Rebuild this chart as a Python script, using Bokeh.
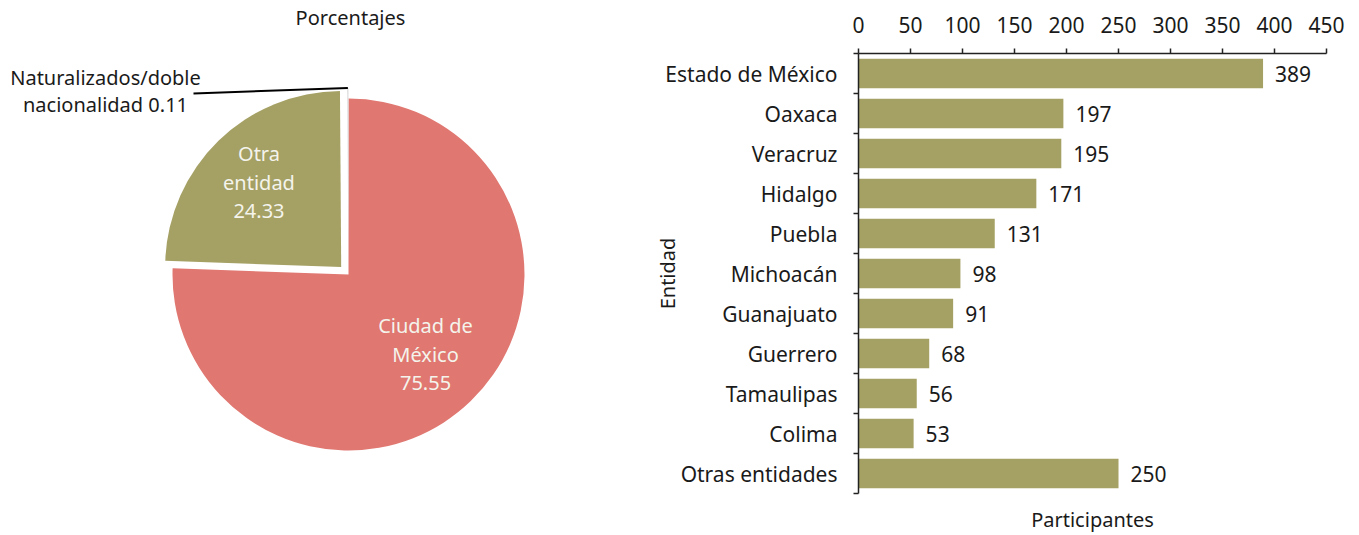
import math
from bokeh.plotting import figure
from bokeh.layouts import row
from bokeh.models import Range1d, FixedTicker, LinearAxis, ColumnDataSource
from bokeh.core.properties import value
from bokeh.embed import file_html
from bokeh.resources import INLINE

# ---------------- data ----------------
pie_title = "Porcentajes"
pie_labels = ["Ciudad de México", "Otra entidad", "Naturalizados/doble nacionalidad"]
pie_values = [75.55, 24.33, 0.11]
pie_colors = ["#E07770", "#A5A064", "#D9D9D9"]
pie_explode = [0.0, 10.5, 10.5]

bar_names = ["Estado de México", "Oaxaca", "Veracruz", "Hidalgo", "Puebla", "Michoacán",
             "Guanajuato", "Guerrero", "Tamaulipas", "Colima", "Otras entidades"]
bar_values = [389, 197, 195, 171, 131, 98, 91, 68, 56, 53, 250]
x_ticks = [0, 50, 100, 150, 200, 250, 300, 350, 400, 450]

FONT = "Noto Sans"
TXT = "#1a1a1a"
TOP, FH, BOT = 53, 440, 40

# ---------------- pie ----------------
W1 = 638
p1 = figure(frame_width=W1, frame_height=FH, x_range=Range1d(0, W1), y_range=Range1d(0, FH),
            output_backend="svg", toolbar_location=None, min_border_left=0,
            min_border_right=0, min_border_top=TOP, min_border_bottom=BOT)
p1.axis.visible = False
p1.grid.visible = False
p1.outline_line_color = None

# title drawn as the single label of an otherwise invisible top axis
ta = LinearAxis(ticker=FixedTicker(ticks=[350]), major_label_overrides={350: pie_title},
                axis_line_color=None, major_tick_line_color=None, minor_tick_line_color=None,
                major_tick_out=0, major_tick_in=0, major_label_standoff=23,
                major_label_text_font=FONT, major_label_text_font_size="20px",
                major_label_text_color=TXT)
p1.add_layout(ta, "above")

cx, cy, R = 348, 219, 176
total = sum(pie_values)
a = 90.0
centers = []
mids = []
for v, col, ex in zip(pie_values, pie_colors, pie_explode):
    sweep = v / total * 360.0
    end = a - sweep
    mid = math.radians((a + end) / 2)
    ox, oy = cx + ex * math.cos(mid), cy + ex * math.sin(mid)
    p1.wedge(x=ox, y=oy, radius=R, start_angle=math.radians(end), end_angle=math.radians(a),
             fill_color=col, line_color=None)
    centers.append((ox, oy))
    mids.append(mid)
    a = end

fs = "20px"
def inside(i, lines, frac):
    ox, oy = centers[i]
    lx, ly = ox + frac * R * math.cos(mids[i]), oy + frac * R * math.sin(mids[i])
    n = len(lines)
    ys = [ly + (n - 1) / 2 * 28.5 - k * 28.5 for k in range(n)]
    p1.text(x=[lx] * n, y=ys, text=lines, text_align="center", text_baseline="middle",
            text_font=value(FONT), text_font_size=fs, text_color="#F4F4EC")

inside(0, ["Ciudad de", "México", f"{pie_values[0]:.2f}"], 0.63)
inside(1, ["Otra", "entidad", f"{pie_values[1]:.2f}"], 0.67)

ox, oy = centers[2]
sx, sy = ox + R * math.cos(mids[2]), oy + R * math.sin(mids[2])
p1.line(x=[sx, 193], y=[sy, 400], line_color="black", line_width=2)
p1.text(x=[105, 105], y=[416, 389], text=["Naturalizados/doble", f"nacionalidad {pie_values[2]:.2f}"],
        text_align="center", text_baseline="middle", text_font=value(FONT),
        text_font_size=fs, text_color=TXT)

# ---------------- bars ----------------
n = len(bar_names)
ycent = [i + 0.5 for i in range(n)]
bounds = [float(i) for i in range(n + 1)]

p2 = figure(frame_width=468, frame_height=FH, x_range=Range1d(0, 450), y_range=Range1d(n, 0),
            x_axis_location="above", output_backend="svg", toolbar_location=None,
            min_border_left=220, min_border_right=30, min_border_top=TOP, min_border_bottom=BOT)
p2.grid.visible = False
p2.outline_line_color = None

src = ColumnDataSource(dict(y=ycent, v=bar_values, t=[str(v) for v in bar_values]))
p2.hbar(y="y", left=0, right="v", height=0.74, source=src, fill_color="#A5A064",
        line_color=None)
p2.text(x="v", y="y", text="t", source=src, x_offset=12, text_baseline="middle",
        text_font=value(FONT), text_font_size="21px", text_color=TXT)

xa = p2.xaxis[0]
xa.ticker = FixedTicker(ticks=x_ticks)
xa.major_tick_in = 0
xa.major_tick_out = 5
xa.minor_tick_line_color = None
xa.axis_line_width = 1.5
xa.major_tick_line_width = 1.5
xa.axis_line_color = "#222"
xa.major_tick_line_color = "#222"
xa.major_label_text_font = FONT
xa.major_label_text_font_size = "21px"
xa.major_label_text_color = TXT
xa.major_label_standoff = 16

ya = p2.yaxis[0]
ya.ticker = FixedTicker(ticks=ycent, minor_ticks=bounds)
ya.major_label_overrides = {c: nm for c, nm in zip(ycent, bar_names)}
ya.major_tick_line_color = None
ya.major_tick_in = 0
ya.major_tick_out = 4
ya.minor_tick_in = 0
ya.minor_tick_out = 5
ya.minor_tick_line_width = 1.5
ya.minor_tick_line_color = "#222"
ya.axis_line_width = 1.5
ya.axis_line_color = "#222"
ya.major_label_text_font = FONT
ya.major_label_text_font_size = "21px"
ya.major_label_text_color = TXT
ya.major_label_standoff = 16
ya.axis_label = "Entidad"
ya.axis_label_text_font = FONT
ya.axis_label_text_font_size = "20px"
ya.axis_label_text_font_style = "normal"
ya.axis_label_text_color = TXT
ya.axis_label_standoff = -19

ba = LinearAxis(axis_label="Participantes", ticker=FixedTicker(ticks=[]),
                axis_line_color=None, major_tick_line_color=None, minor_tick_line_color=None,
                major_tick_out=0, major_label_standoff=0,
                major_label_text_font_size="0px", axis_label_text_font=FONT,
                axis_label_text_font_size="20px", axis_label_text_font_style="normal",
                axis_label_text_color=TXT, axis_label_standoff=12)
p2.add_layout(ba, "below")

layout = row(p1, p2)
open("out.html", "w").write(file_html(layout, INLINE))
